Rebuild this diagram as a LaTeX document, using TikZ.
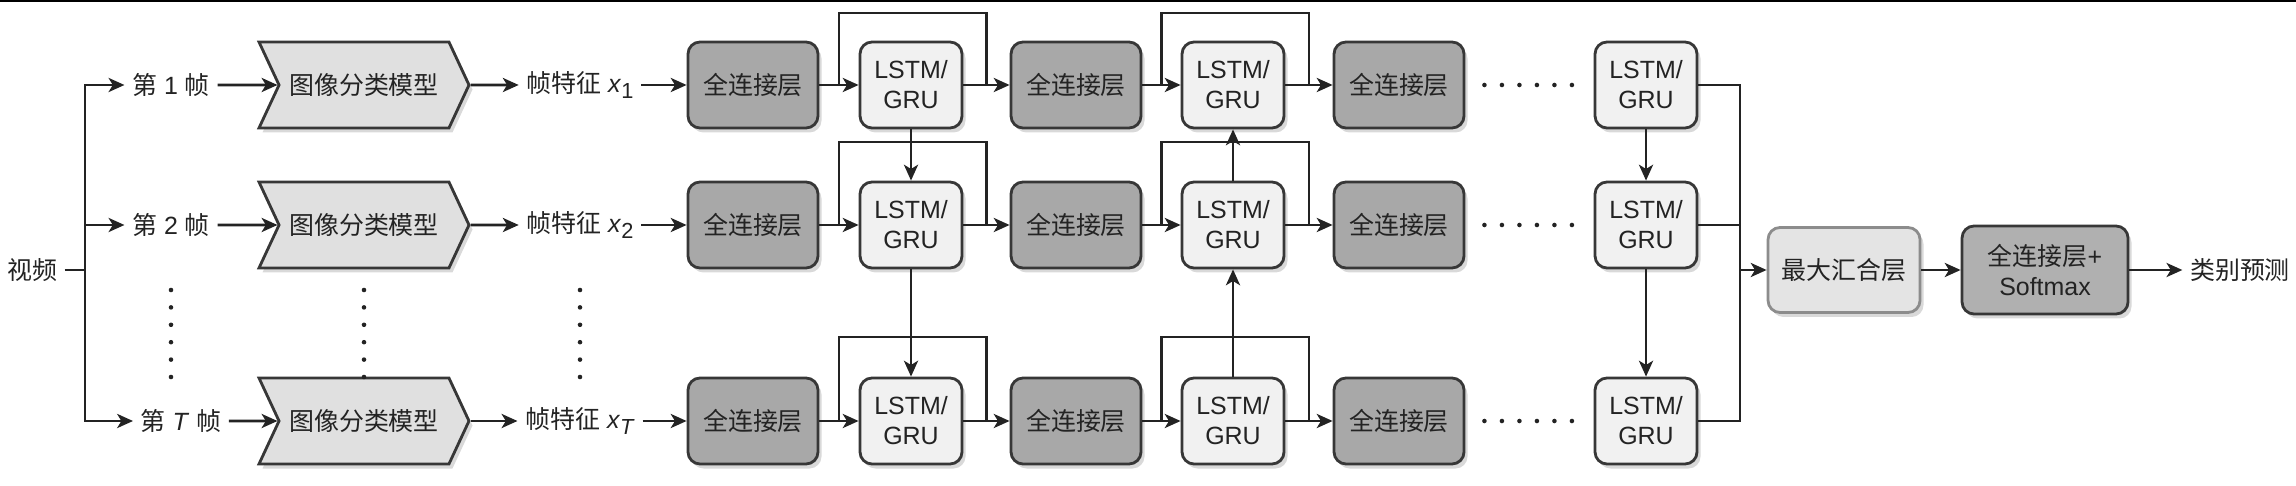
\documentclass[tikz,border=0pt]{standalone}
\usepackage{fontspec}
\setmainfont{Liberation Sans}
\newfontfamily\cjk{Noto Sans CJK SC}
\usepackage{tikz}
\usetikzlibrary{shapes.symbols, arrows.meta, positioning, calc, shadows}

\definecolor{fcgray}{RGB}{168,168,168}
\definecolor{rnngray}{RGB}{241,241,241}
\definecolor{modelgray}{RGB}{224,224,224}
\definecolor{poolgray}{RGB}{228,228,228}
\definecolor{softgray}{RGB}{176,176,176}
\definecolor{edgegray}{RGB}{55,55,55}
\definecolor{inkgray}{RGB}{35,35,35}

\newcommand{\fsub}[1]{\raisebox{-0.45ex}{\fontsize{6.2}{6.2}\selectfont #1}}

\tikzstyle{boxshadow} = [drop shadow={shadow xshift=0.035cm, shadow yshift=-0.045cm, opacity=0.3}]
\tikzstyle{fcbox} = [rectangle, rounded corners=0.12cm, minimum width=1.3cm, minimum height=0.86cm, text centered, draw=edgegray, line width=0.8pt, fill=fcgray, boxshadow]
\tikzstyle{rnnbox} = [rectangle, rounded corners=0.12cm, minimum width=1.02cm, minimum height=0.86cm, align=center, draw=edgegray, line width=0.8pt, fill=rnngray, boxshadow]
\tikzstyle{model} = [signal, signal from=west, signal to=east, signal pointer angle=130, minimum width=2.1cm, minimum height=0.86cm, inner sep=0pt, draw=edgegray, line width=0.8pt, fill=modelgray, boxshadow]
\tikzstyle{poolbox} = [rectangle, rounded corners=0.12cm, minimum width=1.52cm, minimum height=0.85cm, text centered, draw=black!45, line width=0.8pt, fill=poolgray, boxshadow]
\tikzstyle{softbox} = [rectangle, rounded corners=0.12cm, minimum width=1.66cm, minimum height=0.88cm, align=center, draw=edgegray, line width=0.8pt, fill=softgray, boxshadow]
\tikzstyle{textnode} = [inner sep=2pt]
\tikzstyle{flow} = [draw=inkgray, line width=0.8pt, -{Stealth[length=4.5pt, width=4pt, inset=1.2pt]}]
\tikzstyle{link} = [draw=inkgray, line width=0.8pt]
\tikzstyle{dotcol} = [draw=inkgray, line width=1.3pt, line cap=round, dash pattern=on 0pt off 0.174cm]
\tikzstyle{dotrow} = [draw=inkgray, line width=1.3pt, line cap=round, dash pattern=on 0pt off 0.175cm, shorten <=0.19cm, shorten >=0.19cm]

\begin{document}
\begin{tikzpicture}[on grid, text=inkgray, font=\fontsize{7.1}{8.5}\selectfont]

\useasboundingbox (0,0) rectangle (22.96,4.85);
% page edge
\draw [line width=0.6pt, black] (0,4.84) -- (22.96,4.84);

% Input
\node (video) [textnode] at (0.32,2.15) {\cjk 视频};
\coordinate (split) at (0.85,2.15);

% Row 1
\node (frame1) [textnode] at (1.71,4.00) {{\cjk 第} 1 {\cjk 帧}};
\node (model1) [model, right=1.93 of frame1] {\cjk 图像分类模型};
\node (feat1) [textnode, right=2.16 of model1] {{\cjk 帧特征} \textit{x}\fsub{1}};
\node (fcA1) [fcbox, right=1.73 of feat1] {\cjk 全连接层};
\node (rnnA1) [rnnbox, right=1.58 of fcA1] {LSTM/\\GRU};
\node (fcB1) [fcbox, right=1.65 of rnnA1] {\cjk 全连接层};
\node (rnnB1) [rnnbox, right=1.57 of fcB1] {LSTM/\\GRU};
\node (fcC1) [fcbox, right=1.66 of rnnB1] {\cjk 全连接层};
\node (rnnC1) [rnnbox, right=2.47 of fcC1] {LSTM/\\GRU};

% Row 2
\node (frame2) [textnode, below=1.40 of frame1] {{\cjk 第} 2 {\cjk 帧}};
\node (model2) [model, below=1.40 of model1] {\cjk 图像分类模型};
\node (feat2) [textnode, below=1.40 of feat1] {{\cjk 帧特征} \textit{x}\fsub{2}};
\node (fcA2) [fcbox, below=1.40 of fcA1] {\cjk 全连接层};
\node (rnnA2) [rnnbox, below=1.40 of rnnA1] {LSTM/\\GRU};
\node (fcB2) [fcbox, below=1.40 of fcB1] {\cjk 全连接层};
\node (rnnB2) [rnnbox, below=1.40 of rnnB1] {LSTM/\\GRU};
\node (fcC2) [fcbox, below=1.40 of fcC1] {\cjk 全连接层};
\node (rnnC2) [rnnbox, below=1.40 of rnnC1] {LSTM/\\GRU};

% Row T
\node (frameT) [textnode, below=1.96 of frame2, xshift=0.1cm] {{\cjk 第} \textit{T} {\cjk 帧}};
\node (modelT) [model, below=1.96 of model2] {\cjk 图像分类模型};
\node (featT) [textnode, below=1.96 of feat2] {{\cjk 帧特征} \textit{x}\fsub{\textit{T}}};
\node (fcAT) [fcbox, below=1.96 of fcA2] {\cjk 全连接层};
\node (rnnAT) [rnnbox, below=1.96 of rnnA2] {LSTM/\\GRU};
\node (fcBT) [fcbox, below=1.96 of fcB2] {\cjk 全连接层};
\node (rnnBT) [rnnbox, below=1.96 of rnnB2] {LSTM/\\GRU};
\node (fcCT) [fcbox, below=1.96 of fcC2] {\cjk 全连接层};
\node (rnnCT) [rnnbox, below=1.96 of rnnC2] {LSTM/\\GRU};

% Output
\coordinate (bus) at (17.40,2.15);
\node (pool) [poolbox] at (18.44,2.15) {\cjk 最大汇合层};
\node (soft) [softbox, right=2.01 of pool] {{\cjk 全连接层}+\\Softmax};
\node (pred) [textnode, right=1.95 of soft] {\cjk 类别预测};

% Connections
\draw [link] (video) -- (split);
\draw [flow] (split) |- (frame1);
\draw [flow] (split) |- (frame2);
\draw [flow] (split) |- (frameT);

\draw [flow] (frame1) -- (model1);
\draw [flow] (model1) -- (feat1);
\draw [flow] (feat1) -- (fcA1);
\draw [flow] (fcA1) -- (rnnA1);
\draw [flow] (rnnA1) -- (fcB1);
\draw [flow] (fcB1) -- (rnnB1);
\draw [flow] (rnnB1) -- (fcC1);

\draw [flow] (frame2) -- (model2);
\draw [flow] (model2) -- (feat2);
\draw [flow] (feat2) -- (fcA2);
\draw [flow] (fcA2) -- (rnnA2);
\draw [flow] (rnnA2) -- (fcB2);
\draw [flow] (fcB2) -- (rnnB2);
\draw [flow] (rnnB2) -- (fcC2);

\draw [flow] (frameT) -- (modelT);
\draw [flow] (modelT) -- (featT);
\draw [flow] (featT) -- (fcAT);
\draw [flow] (fcAT) -- (rnnAT);
\draw [flow] (rnnAT) -- (fcBT);
\draw [flow] (fcBT) -- (rnnBT);
\draw [flow] (rnnBT) -- (fcCT);

% recurrent loops
\draw [link] ($(rnnA1.east)!0.5!(fcB1.west)$) -- ++(0,0.72) -| ($(fcA1.east)!0.5!(rnnA1.west)$);
\draw [link] ($(rnnB1.east)!0.5!(fcC1.west)$) -- ++(0,0.72) -| ($(fcB1.east)!0.5!(rnnB1.west)$);
\draw [link] ($(rnnA2.east)!0.5!(fcB2.west)$) -- ++(0,0.83) -| ($(fcA2.east)!0.5!(rnnA2.west)$);
\draw [link] ($(rnnB2.east)!0.5!(fcC2.west)$) -- ++(0,0.83) -| ($(fcB2.east)!0.5!(rnnB2.west)$);
\draw [link] ($(rnnAT.east)!0.5!(fcBT.west)$) -- ++(0,0.84) -| ($(fcAT.east)!0.5!(rnnAT.west)$);
\draw [link] ($(rnnBT.east)!0.5!(fcCT.west)$) -- ++(0,0.84) -| ($(fcBT.east)!0.5!(rnnBT.west)$);

% between rows
\draw [flow] (rnnA1) -- (rnnA2);
\draw [flow] (rnnA2) -- (rnnAT);
\draw [flow] (rnnBT) -- (rnnB2);
\draw [flow] (rnnB2) -- (rnnB1);
\draw [flow] (rnnC1) -- (rnnC2);
\draw [flow] (rnnC2) -- (rnnCT);

% dots
\draw [dotcol] ([yshift=-0.65cm]frame2.center) -- ++(0,-0.871);
\draw [dotcol] ([yshift=-0.65cm]model2.center) -- ++(0,-0.871);
\draw [dotcol] ([yshift=-0.65cm]feat2.center) -- ++(0,-0.871);
\draw [dotrow] (fcC1) -- (rnnC1);
\draw [dotrow] (fcC2) -- (rnnC2);
\draw [dotrow] (fcCT) -- (rnnCT);

% pooling
\draw [link] (rnnC1.east) -| (bus);
\draw [link] (rnnC2.east) -| (bus);
\draw [link] (rnnCT.east) -| (bus);
\draw [flow] (bus) -- (pool);
\draw [flow] (pool) -- (soft);
\draw [flow] (soft) -- (pred);

\end{tikzpicture}
\end{document}
